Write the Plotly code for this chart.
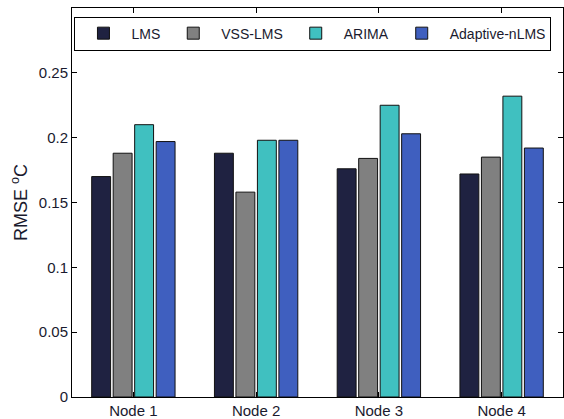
import plotly.graph_objects as go

nodes = ["Node 1", "Node 2", "Node 3", "Node 4"]
series_names = ["LMS", "VSS-LMS", "ARIMA", "Adaptive-nLMS"]
lms = [0.170, 0.188, 0.176, 0.172]
vss_lms = [0.188, 0.158, 0.184, 0.185]
arima = [0.210, 0.198, 0.225, 0.232]
adaptive_nlms = [0.197, 0.198, 0.203, 0.192]
y_ticks = [0, 0.05, 0.1, 0.15, 0.2, 0.25]
y_tick_labels = ["0", "0.05", "0.1", "0.15", "0.2", "0.25"]

colors = ["#1f2241", "#808080", "#40c0c0", "#3f5fbf"]
values = [lms, vss_lms, arima, adaptive_nlms]

fig = go.Figure()
for name, vals, c in zip(series_names, values, colors):
    fig.add_trace(go.Bar(
        x=[1, 2, 3, 4], y=vals, name=name,
        marker=dict(color=c, line=dict(color="#111111", width=1)),
    ))

fam = "Liberation Sans, Arial, sans-serif"
font = dict(family=fam, size=15, color="#1a1a2e")
fig.update_layout(
    width=564, height=419,
    margin=dict(l=72, r=1, t=8, b=22, autoexpand=False),
    paper_bgcolor="white", plot_bgcolor="white",
    barmode="group", bargap=0.3, bargroupgap=0.12,
    font=font,
    showlegend=True,
    legend=dict(
        orientation="h", x=0.005, y=0.978, xanchor="left", yanchor="top",
        bordercolor="black", borderwidth=1, bgcolor="white",
        font=dict(size=14, family=fam, color="#1a1a2e"),
        itemwidth=46,
    ),
    xaxis=dict(
        range=[0.5, 4.5], tickvals=[1, 2, 3, 4], ticktext=nodes,
        showline=True, linecolor="black", linewidth=1, mirror="ticks",
        ticks="inside", ticklen=5, tickcolor="black",
        showgrid=False, zeroline=False, automargin=False,
        tickfont=dict(size=15, family=fam, color="#1a1a2e"),
    ),
    yaxis=dict(
        range=[0, 0.3], tickvals=y_ticks, ticktext=y_tick_labels,
        showline=True, linecolor="black", linewidth=1, mirror="ticks",
        ticks="inside", ticklen=5, tickcolor="black",
        showgrid=False, zeroline=False, automargin=False,
        tickfont=dict(size=15, family=fam, color="#1a1a2e"),
        title=dict(text="RMSE <sup>o</sup>C", standoff=6,
                   font=dict(size=18, family=fam, color="#1a1a2e")),
    ),
)
fig.write_html(
    "out.html",
    config={"displayModeBar": False},
    post_script="document.body.style.margin='0';document.body.style.padding='0';",
)
